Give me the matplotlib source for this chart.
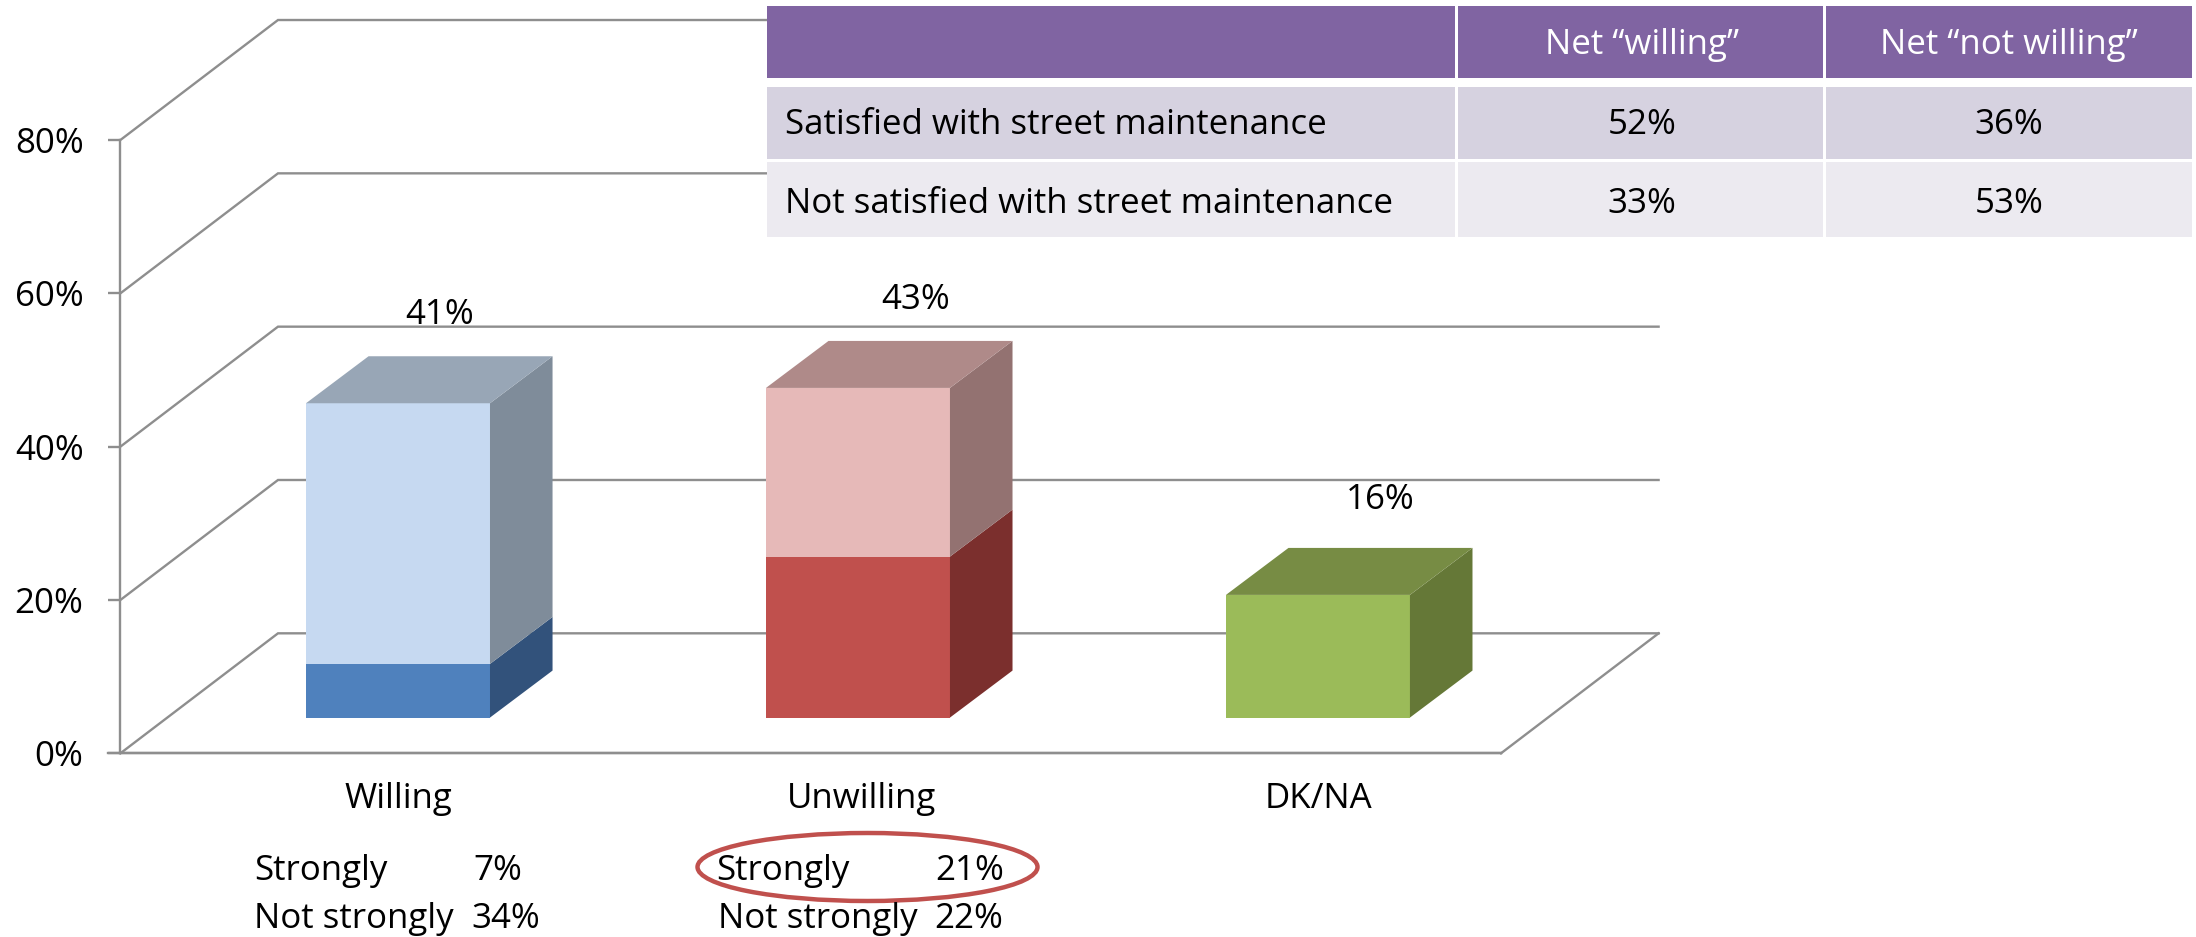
import matplotlib
matplotlib.use("Agg")
import matplotlib.pyplot as plt
from matplotlib.patches import Polygon, Rectangle, Ellipse
from matplotlib.transforms import ScaledTranslation

# ---- data ----
categories = ["Willing", "Unwilling", "DK/NA"]
lower_values = [7, 21, 16]       # "strongly" (DK/NA has one block)
upper_values = [34, 22, 0]       # "not strongly"
total_labels = ["41%", "43%", "16%"]
y_ticks = [0, 20, 40, 60, 80]
y_tick_labels = ["0%", "20%", "40%", "60%", "80%"]
table_columns = ["", "Net \u201cwilling\u201d", "Net \u201cnot willing\u201d"]
table_row_1 = ["Satisfied with street maintenance", "52%", "36%"]
table_row_2 = ["Not satisfied with street maintenance", "33%", "53%"]
detail_labels = ["Strongly", "Not strongly"]
detail_willing = ["7%", "34%"]
detail_unwilling = ["21%", "22%"]

# ---- style ----
W, H = 2196, 937
FONT = "Open Sans"
FS = 25.1
GRID = "#8E8E8E"
LW = 1.7
low_colors = [("#4F81BD", "#32527B", "#98A6B6"),
              ("#C0504D", "#7B2F2D", "#AF8A89"),
              ("#9BBB59", "#657837", "#778C44")]
up_colors = [("#C6D9F1", "#7F8C9A", "#98A6B6"),
             ("#E6B9B8", "#937271", "#AF8A89"),
             ("#9BBB59", "#657837", "#778C44")]
plt.rcParams["font.family"] = [FONT, "DejaVu Sans"]

fig = plt.figure(figsize=((W + 0.01) / 100, (H + 0.01) / 100), dpi=100, facecolor="white")
L, R, B, T = 120.4, 1501, 753.3, 140
ax = fig.add_axes([L / W, 1 - B / H, (R - L) / W, (B - T) / H])
ax.set_xlim(-0.6035, 2.398)
ax.set_ylim(0, 80)
ax.patch.set_visible(False)

# depth of the 3D box, in data units
WALL_DX, WALL_DY = 0.3426, 15.65
BAR_DX, BAR_DY = 0.136, 6.13
BASE = 4.66
BAR_W = 0.40

for s in ["top", "right"]:
    ax.spines[s].set_visible(False)
for s in ["left", "bottom"]:
    ax.spines[s].set_color(GRID)
    ax.spines[s].set_linewidth(LW)
ax.set_yticks(y_ticks, y_tick_labels)
ax.set_xticks(range(len(categories)), categories)
ax.tick_params(axis="y", length=8.5, width=LW, color=GRID, pad=18, labelsize=FS)
ax.tick_params(axis="x", length=0, pad=21, labelsize=FS)
tick_label = ax.get_xticklabels()[1]
tick_label.set_transform(tick_label.get_transform() + ScaledTranslation(0.04, 0, fig.dpi_scale_trans))
x0, x1 = ax.get_xlim()

# walls
for t in y_ticks:
    ax.plot([x0, x0 + WALL_DX, x1 + WALL_DX], [t, t + WALL_DY, t + WALL_DY],
            color=GRID, lw=LW, clip_on=False, zorder=1, solid_joinstyle="miter")
ax.plot([x1, x1 + WALL_DX], [0, WALL_DY], color=GRID, lw=LW, clip_on=False, zorder=1)
ax.plot([x0 - 0.026, x1], [0, 0], color=GRID, lw=LW, clip_on=False, zorder=1)


def box(x, bottom, h, front, side, top, draw_top):
    a, b = x - BAR_W / 2, x + BAR_W / 2
    ax.bar(x, h, BAR_W, bottom=bottom, color=front, zorder=3, clip_on=False)
    ax.add_patch(Polygon([(b, bottom), (b + BAR_DX, bottom + BAR_DY),
                          (b + BAR_DX, bottom + h + BAR_DY), (b, bottom + h)],
                         fc=side, ec="none", zorder=3, clip_on=False))
    if draw_top:
        ax.add_patch(Polygon([(a, bottom + h), (a + BAR_DX, bottom + h + BAR_DY),
                              (b + BAR_DX, bottom + h + BAR_DY), (b, bottom + h)],
                             fc=top, ec="none", zorder=3, clip_on=False))


label_offsets = [11.55, 11.45, 12.4]
label_dx = [0.09, 0.125, 0.135]
for i in range(len(categories)):
    lo, up = lower_values[i], upper_values[i]
    box(i, BASE, lo, *low_colors[i], draw_top=up == 0)
    if up:
        box(i, BASE + lo, up, *up_colors[i], draw_top=True)
    ax.text(i + label_dx[i], BASE + lo + up + label_offsets[i], total_labels[i],
            ha="center", va="center", fontsize=FS, color="black", clip_on=False, zorder=4)

# overlay in figure pixels: table and side notes
ov = fig.add_axes([0, 0, 1, 1], zorder=5)
ov.set_xlim(0, W)
ov.set_ylim(H, 0)
ov.axis("off")

col_edges = [767, 1458, 1825.5, 2192]
ov.add_patch(Rectangle((col_edges[0], 0), col_edges[-1] - col_edges[0], 237, fc="white", ec="none"))
rows = [(6, 78, "#8064A2", table_columns, "white", 3),
        (87, 159, "#D6D2E0", table_row_1, "black", 2),
        (162, 237, "#ECEAF0", table_row_2, "black", 4)]
for top, bot, col, cells, tc, dy in rows:
    for c in range(3):
        ov.add_patch(Rectangle((col_edges[c], top), col_edges[c + 1] - col_edges[c] - (3 if c < 2 else 0),
                               bot - top, fc=col, ec="none"))
        ymid = (top + bot) / 2 + dy
        if c == 0:
            ov.text(col_edges[0] + 18, ymid, cells[c], ha="left", va="center", fontsize=FS, color=tc)
        else:
            ov.text((col_edges[c] + col_edges[c + 1]) / 2, ymid, cells[c], ha="center", va="center",
                    fontsize=FS, color=tc)

ov.text(254, 871, detail_labels[0], ha="left", va="center", fontsize=FS)
ov.text(473, 871, detail_willing[0], ha="left", va="center", fontsize=FS)
ov.text(254, 919, detail_labels[1], ha="left", va="center", fontsize=FS)
ov.text(471, 919, detail_willing[1], ha="left", va="center", fontsize=FS)
ov.text(716, 871, detail_labels[0], ha="left", va="center", fontsize=FS)
ov.text(935, 871, detail_unwilling[0], ha="left", va="center", fontsize=FS)
ov.text(718, 919, detail_labels[1], ha="left", va="center", fontsize=FS)
ov.text(934, 919, detail_unwilling[1], ha="left", va="center", fontsize=FS)
ov.add_patch(Ellipse((867.5, 867), 340, 68, fc="none", ec="#C0504D", lw=3.2))

fig.savefig("out.png", dpi=100)
